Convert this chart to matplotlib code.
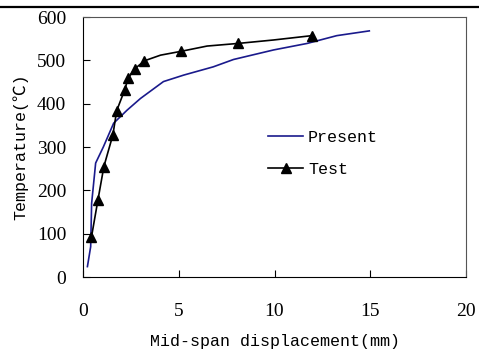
import numpy as np
import matplotlib.pyplot as plt
from matplotlib.lines import Line2D

# data
present_x = [0.23, 0.40, 0.45, 0.66, 1.06, 1.60, 2.30, 3.00, 4.20, 5.26, 6.80, 7.86, 9.95, 11.70, 13.25, 14.95]
present_y = [24, 70, 170, 263, 300, 355, 385, 412, 451, 466, 485, 502, 524, 539, 557, 568]

test_x = [0.44, 0.78, 1.09, 1.56, 1.76, 2.17, 2.36, 2.69, 3.21, 4.05, 5.14, 6.48, 8.09, 9.95, 11.95]
test_y = [92, 178, 255, 328, 384, 431, 459, 480, 499, 512, 521, 533, 539, 547, 557]
test_marks = [0, 1, 2, 3, 4, 5, 6, 7, 8, 10, 12, 14]

xticks = [0, 5, 10, 15, 20]
yticks = [0, 100, 200, 300, 400, 500, 600]

num_font = 'Liberation Serif'
txt_font = ['Liberation Mono', 'Noto Sans CJK SC', 'DejaVu Sans']

fig = plt.figure(figsize=(4.79, 3.56), dpi=100)
ax = fig.add_axes([0.1733, 0.2219, 0.7996, 0.7303])

# header rule at the top of the page
fig.add_artist(Line2D([0, 1], [1 - 7/356, 1 - 7/356], color='black', lw=1.6,
                      transform=fig.transFigure))

ax.plot(present_x, present_y, color='#1a1a8c', lw=1.2, label='Present')
ax.plot(test_x, test_y, color='black', lw=1.2, marker='^', markersize=7,
        markevery=test_marks, label='Test')

ax.set_xlim(0, 20)
ax.set_ylim(0, 600)
ax.set_xticks(xticks)
ax.set_yticks(yticks)
ax.tick_params(direction='in', length=5, width=0.8)
ax.tick_params(axis='x', pad=19)
ax.tick_params(axis='y', pad=12)
for lab in ax.get_xticklabels() + ax.get_yticklabels():
    lab.set_fontfamily(num_font)
    lab.set_fontsize(14)

for s in ax.spines.values():
    s.set_linewidth(0.8)
ax.spines['top'].set_color('#555555')
ax.spines['right'].set_color('#555555')

ax.set_xlabel('Mid-span displacement(mm)', family=txt_font, fontsize=12, labelpad=10)
ax.set_ylabel('Temperature(℃)', family=txt_font, fontsize=12, labelpad=6)

ax.legend(loc='upper left', bbox_to_anchor=(0.483, 0.567), frameon=False,
          prop={'family': txt_font, 'size': 12}, handlelength=2.1,
          handletextpad=0.3, labelspacing=1.05, borderpad=0, borderaxespad=0)

fig.savefig('out.png', dpi=100)
